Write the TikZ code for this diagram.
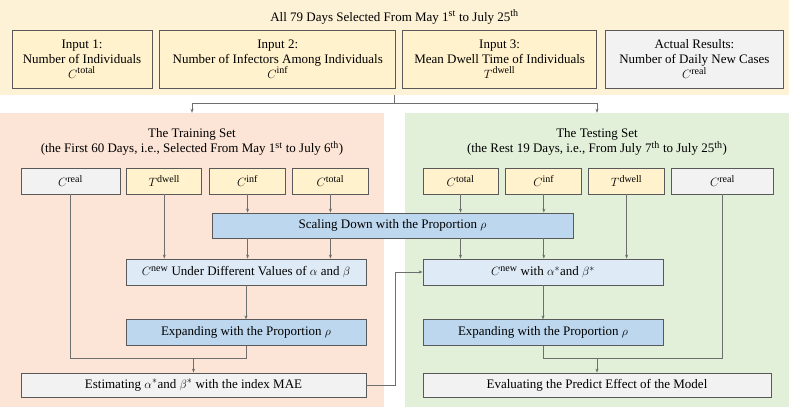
\documentclass[tikz,border=0pt]{standalone}
\usepackage{amsmath}
\usepackage{fontspec}
\setmainfont{Liberation Serif}
\DeclareMathSizes{13}{13}{10}{8}
\usetikzlibrary{arrows.meta,calc,positioning}
\definecolor{topbg}{HTML}{FDF1D6}
\definecolor{inyellow}{HTML}{FFF2CC}
\definecolor{resgray}{HTML}{F2F2F2}
\definecolor{trainbg}{HTML}{FCE4D6}
\definecolor{testbg}{HTML}{E2F0D9}
\definecolor{bluedark}{HTML}{BDD7EE}
\definecolor{bluelight}{HTML}{DEEBF7}
\definecolor{boxline}{HTML}{595959}
\definecolor{linegray}{HTML}{6E6E6E}
\tikzset{
  panel/.style={draw=none, inner sep=0pt},
  inbox/.style={draw=boxline, line width=0.8pt, fill=inyellow, align=center, minimum height=58pt, inner sep=0pt},
  smallbox/.style={draw=boxline, line width=0.8pt, fill=inyellow, minimum height=26pt, inner sep=0pt},
  stepbox/.style={draw=boxline, line width=0.8pt, minimum height=26pt, inner sep=0pt},
  wire/.style={draw=linegray, line width=0.8pt},
  link/.style={wire, -{Stealth[length=4pt,width=3pt]}}
}

\begin{document}
\begin{tikzpicture}[x=1pt,y=-1pt,font=\fontsize{13}{15}\selectfont]
  \useasboundingbox (0,0) rectangle (789,410);
  % top
  \node[panel, fill=topbg, minimum width=789pt, minimum height=95pt](top) at (394.5,47.5){};
  \node(title) at (394.5,17){All 79 Days Selected From May 1\textsuperscript{st} to July 25\textsuperscript{th}};
  \node[inbox, minimum width=140pt](in1) at (82,59){Input 1:\\Number of Individuals\\$C^{\mathrm{total}}$};
  \node[inbox, minimum width=236pt, right=7pt of in1](in2){Input 2:\\Number of Infectors Among Individuals\\$C^{\mathrm{inf}}$};
  \node[inbox, minimum width=194pt, right=6pt of in2](in3){Input 3:\\Mean Dwell Time of Individuals\\$T^{\mathrm{dwell}}$};
  \node[inbox, fill=resgray, minimum width=178pt, right=8pt of in3](in4){Actual Results:\\Number of Daily New Cases\\$C^{\mathrm{real}}$};

  % panels
  \node[panel, fill=trainbg, minimum width=384pt, minimum height=294pt](train) at (192,260){};
  \node[panel, fill=testbg, minimum width=384pt, minimum height=294pt](test) at (597,260){};
  \coordinate(split) at (394.5,103);
  \draw[wire] (top.south) -- (split);
  \draw[link] (split) -| (train.north);
  \draw[link] (split) -| (test.north);

  % training
  \node[align=center](ltitle) at (192,142){The Training Set\\(the First 60 Days, i.e., Selected From May 1\textsuperscript{st} to July 6\textsuperscript{th})};
  \node[smallbox, fill=resgray, minimum width=99pt](lreal) at (70.5,181){$C^{\mathrm{real}}$};
  \node[smallbox, minimum width=75pt, right=6pt of lreal](ldwell){$T^{\mathrm{dwell}}$};
  \node[smallbox, minimum width=76pt, right=7pt of ldwell](linf){$C^{\mathrm{inf}}$};
  \node[smallbox, minimum width=76pt, right=6pt of linf](ltotal){$C^{\mathrm{total}}$};
  \node[stepbox, fill=bluedark, minimum width=361pt, minimum height=25pt](scale) at (392.5,225.5){Scaling Down with the Proportion $\rho$};
  \node[stepbox, fill=bluelight, minimum width=240pt](lnew) at (246,272){$C^{\mathrm{new}}$ Under Different Values of $\alpha$ and $\beta$};
  \node[stepbox, fill=bluedark, minimum width=240pt, below=34pt of lnew](lexp){Expanding with the Proportion $\rho$};
  \node[stepbox, fill=resgray, minimum width=345pt, minimum height=24pt](lest) at (193.5,385){Estimating $\alpha^{*}$and $\beta^{*}$ with the index MAE};
  \coordinate[above=14pt of lest](ljoin);
  \draw[link] (linf) -- (linf |- scale.north);
  \draw[link] (ltotal) -- (ltotal |- scale.north);
  \draw[link] (scale.south -| linf) -- (lnew.north -| linf);
  \draw[link] (scale.south -| ltotal) -- (lnew.north -| ltotal);
  \draw[link] (ldwell) -- (ldwell |- lnew.north);
  \draw[link] (lnew) -- (lexp);
  \draw[wire] (lreal) |- (ljoin) -| (lexp);
  \draw[link] (ljoin) -- (lest);

  % testing
  \node[align=center](rtitle) at (597,142){The Testing Set\\(the Rest 19 Days, i.e., From July 7\textsuperscript{th} to July 25\textsuperscript{th})};
  \node[smallbox, minimum width=75pt](rtotal) at (460.5,181){$C^{\mathrm{total}}$};
  \node[smallbox, minimum width=76pt, right=7pt of rtotal](rinf){$C^{\mathrm{inf}}$};
  \node[smallbox, minimum width=76pt, right=6pt of rinf](rdwell){$T^{\mathrm{dwell}}$};
  \node[smallbox, fill=resgray, minimum width=102pt, right=6pt of rdwell](rreal){$C^{\mathrm{real}}$};
  \node[stepbox, fill=bluelight, minimum width=240pt](rnew) at (543,272){$C^{\mathrm{new}}$ with $\alpha^{*}$and $\beta^{*}$};
  \node[stepbox, fill=bluedark, minimum width=240pt, below=34pt of rnew](rexp){Expanding with the Proportion $\rho$};
  \node[stepbox, fill=resgray, minimum width=348pt, minimum height=24pt](reval) at (597,385){Evaluating the Predict Effect of the Model};
  \coordinate[above=14pt of reval](rjoin);
  \draw[link] (rtotal) -- (rtotal |- scale.north);
  \draw[link] (rinf) -- (rinf |- scale.north);
  \draw[link] (scale.south -| rtotal) -- (rnew.north -| rtotal);
  \draw[link] (scale.south -| rinf) -- (rnew.north -| rinf);
  \draw[link] (rdwell) -- (rdwell |- rnew.north);
  \draw[link] (rnew) -- (rexp);
  \draw[wire] (rreal) |- (rjoin) -| (rexp);
  \draw[link] (rjoin) -- (reval);

  % estimate to testing
  \draw[link] (lest.east) -- ++(29,0) |- (rnew.west);
\end{tikzpicture}
\end{document}
